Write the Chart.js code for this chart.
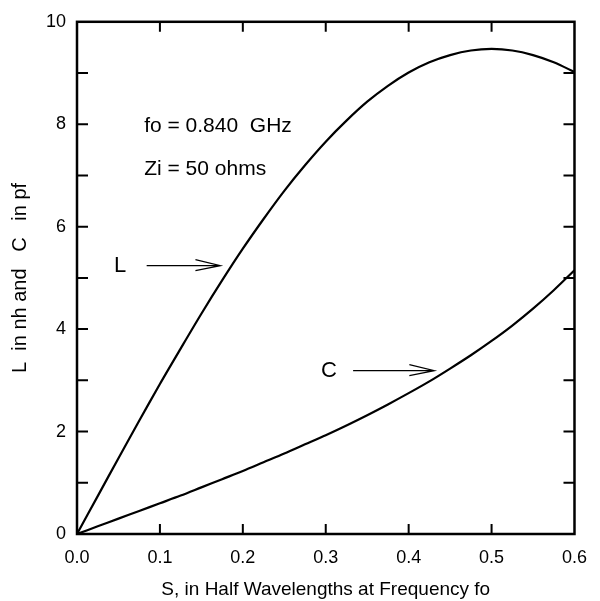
<!DOCTYPE html>
<html>
<head>
<meta charset="utf-8">
<script src="https://cdn.jsdelivr.net/npm/chart.js@4.4.1/dist/chart.umd.min.js"></script>
<style>
  html, body { margin: 0; padding: 0; background: #fff; }
  #wrap { width: 600px; height: 601px; }
</style>
</head>
<body>
<div id="wrap"><canvas id="chart" width="600" height="601"></canvas></div>
<script>
// S in half wavelengths
const sValues = [0, 0.025, 0.05, 0.075, 0.1, 0.125, 0.15, 0.175, 0.2, 0.225, 0.25, 0.275, 0.3,
  0.325, 0.35, 0.375, 0.4, 0.425, 0.45, 0.475, 0.5, 0.525, 0.55, 0.575, 0.6]
// L in nh
const lValues = [0, 0.74, 1.48, 2.21, 2.93, 3.62, 4.30, 4.95, 5.57, 6.15, 6.70, 7.20, 7.66,
  8.07, 8.44, 8.75, 9.01, 9.21, 9.35, 9.44, 9.47, 9.44, 9.35, 9.21, 9.02]
// C in pf
const cValues = [0, 0.15, 0.30, 0.45, 0.60, 0.75, 0.91, 1.07, 1.23, 1.40, 1.57, 1.75, 1.93,
  2.12, 2.32, 2.53, 2.75, 2.98, 3.23, 3.49, 3.77, 4.07, 4.40, 4.76, 5.15]

const xTicks = [0, 0.1, 0.2, 0.3, 0.4, 0.5, 0.6]
const yTicks = [0, 2, 4, 6, 8, 10]
const yMinorTicks = [1, 3, 5, 7, 9]

const FONT = '"Liberation Sans", Arial, Helvetica, sans-serif'

// text notes and arrows, in data units
const notes = [
  { text: 'fo = 0.840  GHz', x: 0.081, y: 7.97 },
  { text: 'Zi = 50 ohms', x: 0.081, y: 7.12 },
]
const arrows = [
  { label: 'L', labelX: 0.052, from: 0.084, to: 0.173, y: 5.24 },
  { label: 'C', labelX: 0.304, from: 0.333, to: 0.431, y: 3.19 },
]

const framePlugin = {
  id: 'frame',
  afterDraw(chart) {
    const { ctx, chartArea: a, scales: { x, y } } = chart
    ctx.save()
    ctx.strokeStyle = '#000'
    ctx.lineWidth = 2.5
    ctx.strokeRect(a.left, a.top, a.right - a.left, a.bottom - a.top)

    // inward ticks
    ctx.lineWidth = 2
    ctx.beginPath()
    xTicks.slice(1, -1).forEach(v => {
      const px = x.getPixelForValue(v)
      ctx.moveTo(px, a.bottom); ctx.lineTo(px, a.bottom - 10)
      ctx.moveTo(px, a.top); ctx.lineTo(px, a.top + 10)
    })
    yTicks.slice(1, -1).concat(yMinorTicks).forEach(v => {
      const py = y.getPixelForValue(v)
      ctx.moveTo(a.left, py); ctx.lineTo(a.left + 11, py)
      ctx.moveTo(a.right, py); ctx.lineTo(a.right - 11, py)
    })
    ctx.stroke()

    // notes
    ctx.fillStyle = '#000'
    ctx.font = '21px ' + FONT
    ctx.textBaseline = 'middle'
    ctx.textAlign = 'left'
    notes.forEach(n => {
      ctx.fillText(n.text, x.getPixelForValue(n.x), y.getPixelForValue(n.y))
    })

    // labelled arrows
    ctx.lineWidth = 1.2
    arrows.forEach(ar => {
      const py = y.getPixelForValue(ar.y)
      const x0 = x.getPixelForValue(ar.from)
      const x1 = x.getPixelForValue(ar.to)
      ctx.font = '22px ' + FONT
      ctx.textAlign = 'center'
      ctx.fillText(ar.label, x.getPixelForValue(ar.labelX), py)
      ctx.beginPath()
      ctx.moveTo(x0, py); ctx.lineTo(x1, py)
      ctx.moveTo(x1 - 25, py - 6); ctx.lineTo(x1, py); ctx.lineTo(x1 - 25, py + 5)
      ctx.stroke()
    })
    ctx.restore()
  }
}

const toPoints = vals => sValues.map((s, i) => ({ x: s, y: vals[i] }))

new Chart(document.getElementById('chart'), {
  type: 'line',
  data: {
    datasets: [
      {
        label: 'L',
        data: toPoints(lValues),
        borderColor: '#000',
        borderWidth: 2.2,
        pointRadius: 0,
        tension: 0.3,
      },
      {
        label: 'C',
        data: toPoints(cValues),
        borderColor: '#000',
        borderWidth: 2.2,
        pointRadius: 0,
        tension: 0.3,
      },
    ],
  },
  options: {
    responsive: false,
    animation: false,
    layout: { padding: { top: 16, right: 18, left: 0, bottom: 0 } },
    plugins: {
      legend: { display: false },
      tooltip: { enabled: false },
    },
    scales: {
      x: {
        type: 'linear',
        min: 0,
        max: 0.6,
        afterBuildTicks(scale) { scale.ticks = xTicks.map(v => ({ value: v })) },
        afterFit(scale) { scale.height = 67 },
        grid: { display: false, drawTicks: false },
        border: { display: false },
        ticks: {
          color: '#000',
          font: { family: FONT, size: 18 },
          padding: 13,
          maxRotation: 0,
          callback: v => v.toFixed(1),
        },
        title: {
          display: true,
          text: 'S, in Half Wavelengths at Frequency fo',
          color: '#000',
          font: { family: FONT, size: 19 },
          padding: { top: 9, bottom: 0 },
        },
      },
      y: {
        min: 0,
        max: 10,
        afterBuildTicks(scale) { scale.ticks = yTicks.map(v => ({ value: v })) },
        afterFit(scale) { scale.width = 77 },
        grid: { display: false, drawTicks: false },
        border: { display: false },
        ticks: {
          color: '#000',
          font: { family: FONT, size: 18 },
          padding: 11,
        },
        title: {
          display: true,
          text: 'L  in nh and   C   in pf',
          color: '#000',
          font: { family: FONT, size: 20 },
          padding: { top: 8, bottom: 0 },
        },
      },
    },
  },
  plugins: [framePlugin],
})
</script>
</body>
</html>
